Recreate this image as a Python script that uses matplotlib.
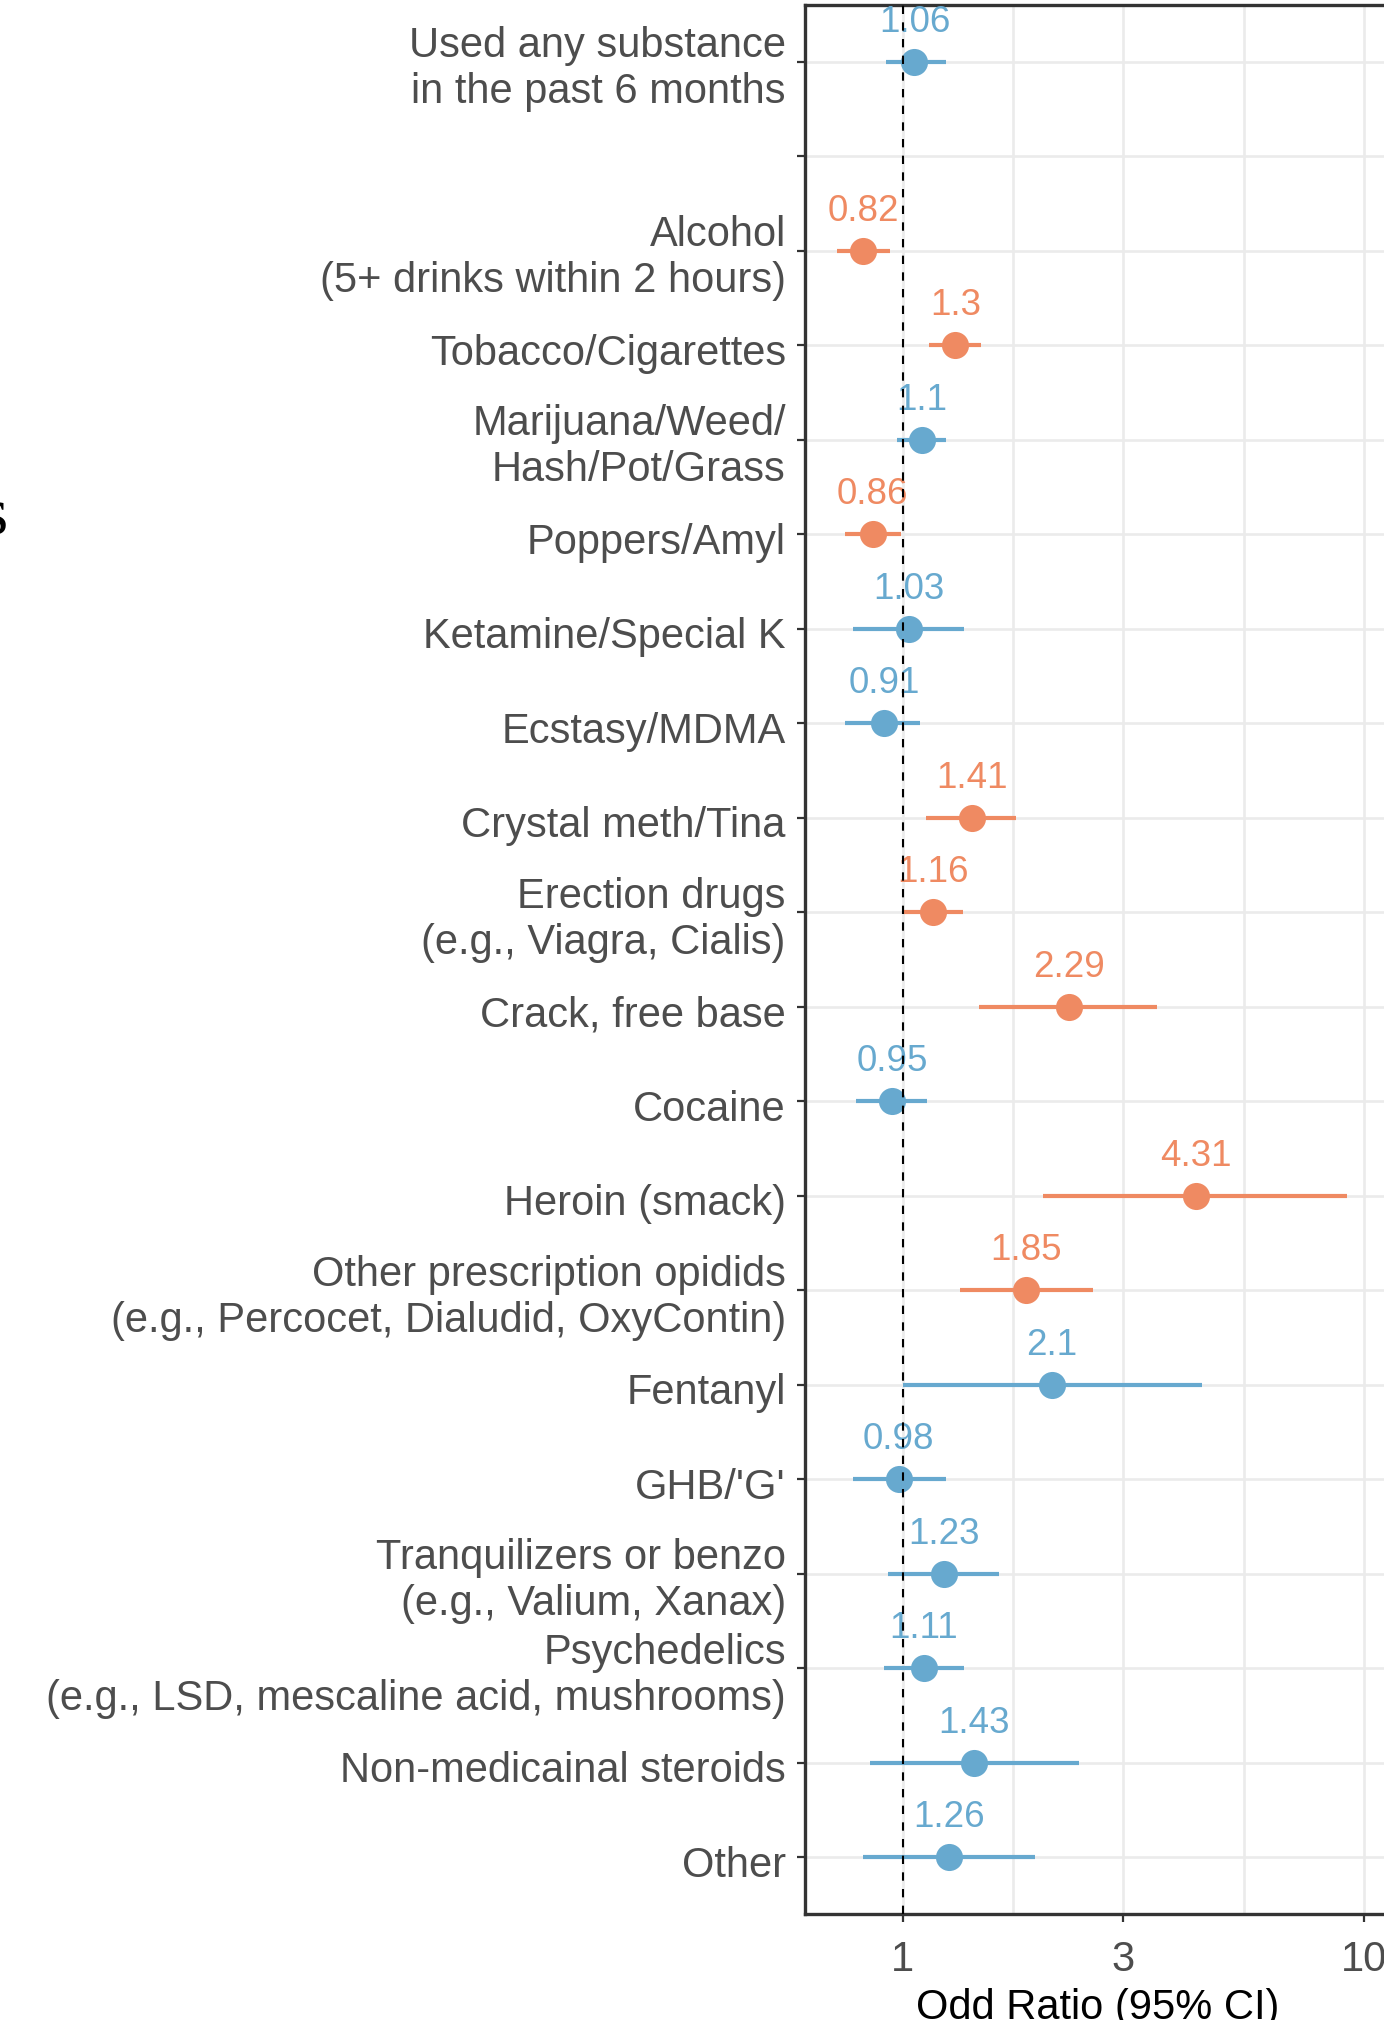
import numpy as np
import matplotlib
import matplotlib.pyplot as plt
import matplotlib.transforms as mtransforms

matplotlib.rcParams.update({'font.family': 'Liberation Sans', 'font.size': 30})

labels = ["Used any substance\nin the past 6 months", "",
          "Alcohol\n(5+ drinks within 2 hours)", "Tobacco/Cigarettes",
          "Marijuana/Weed/\nHash/Pot/Grass", "Poppers/Amyl", "Ketamine/Special K",
          "Ecstasy/MDMA", "Crystal meth/Tina", "Erection drugs\n(e.g., Viagra, Cialis)",
          "Crack, free base", "Cocaine", "Heroin (smack)",
          "Other prescription opidids\n(e.g., Percocet, Dialudid, OxyContin)",
          "Fentanyl", "GHB/'G'", "Tranquilizers or benzo\n(e.g., Valium, Xanax)",
          "Psychedelics\n(e.g., LSD, mescaline acid, mushrooms)",
          "Non-medicainal steroids", "Other"]
odds = [1.06, np.nan, 0.82, 1.30, 1.10, 0.86, 1.03, 0.91, 1.41, 1.16,
        2.29, 0.95, 4.31, 1.85, 2.10, 0.98, 1.23, 1.11, 1.43, 1.26]
lower = [0.92, np.nan, 0.72, 1.14, 0.97, 0.75, 0.78, 0.75, 1.12, 1.00,
         1.46, 0.79, 2.01, 1.33, 1.00, 0.78, 0.93, 0.91, 0.85, 0.82]
upper = [1.24, np.nan, 0.94, 1.48, 1.24, 0.99, 1.36, 1.09, 1.76, 1.35,
         3.55, 1.13, 9.19, 2.58, 4.44, 1.24, 1.62, 1.36, 2.41, 1.93]
signif = [0, 0, 1, 1, 0, 1, 0, 0, 1, 1, 1, 0, 1, 1, 0, 0, 0, 0, 0, 0]
xticks = [1, 3, 10]

col = {0: '#67a9cf', 1: '#ef8a62'}

fig = plt.figure(figsize=(13.84, 20.2), dpi=100)
ax = fig.add_axes([805 / 1384, 106 / 2020, 586 / 1384, 1909 / 2020])

for i in range(len(labels)):
    if np.isnan(odds[i]):
        continue
    c = col[signif[i]]
    ax.plot([lower[i], upper[i]], [i, i], color=c, lw=3.0, solid_capstyle='butt', zorder=3)
    ax.plot(odds[i], i, 'o', color=c, ms=19.5, mew=0, zorder=4)
    ax.annotate('%g' % round(odds[i], 2), (odds[i], i), xytext=(0, 21.5),
                textcoords='offset points', ha='center', va='baseline',
                color=c, fontsize=26.5, zorder=4)

ax.axvline(1, color='black', lw=1.5, ls=(0, (4, 4)), zorder=6)

ax.set_xscale('log')
ax.set_xlim(0.614, 11.42)
ax.set_xticks(xticks, [str(t) for t in xticks])
ax.set_xticks([3 ** 0.5, 30 ** 0.5], minor=True)
ax.xaxis.set_minor_formatter(matplotlib.ticker.NullFormatter())
ax.set_ylim(len(labels) - 0.4, -0.6)
ax.set_yticks(range(len(labels)), labels)

ax.grid(which='both', color='#ebebeb', lw=1.9)
ax.set_axisbelow(True)
for s in ax.spines.values():
    s.set_color('#333333')
    s.set_linewidth(2.4)
ax.tick_params(axis='both', which='major', length=5.8, width=1.6, color='#333333',
               labelcolor='#4d4d4d', labelsize=30)
ax.tick_params(axis='x', which='major', pad=13)
ax.tick_params(axis='y', which='major', pad=8)
ax.tick_params(axis='x', which='minor', length=0)

# one-line labels sit a little lower than matplotlib centres them
shift = mtransforms.ScaledTranslation(0, -4 / 100, fig.dpi_scale_trans)
for lab in ax.get_yticklabels():
    if '\n' not in lab.get_text():
        lab.set_transform(lab.get_transform() + shift)

ax.set_xlabel('Odd Ratio (95% CI)', fontsize=30, color='black')
ax.xaxis.set_label_coords(0.5, -74 / 1909)

# bit of a word cut off at the left edge
fig.text(7 / 1384, 1 - 533 / 2020, 's', ha='right', va='baseline',
         family='Liberation Serif', fontsize=48.5)

fig.savefig('out.png', dpi=100)
